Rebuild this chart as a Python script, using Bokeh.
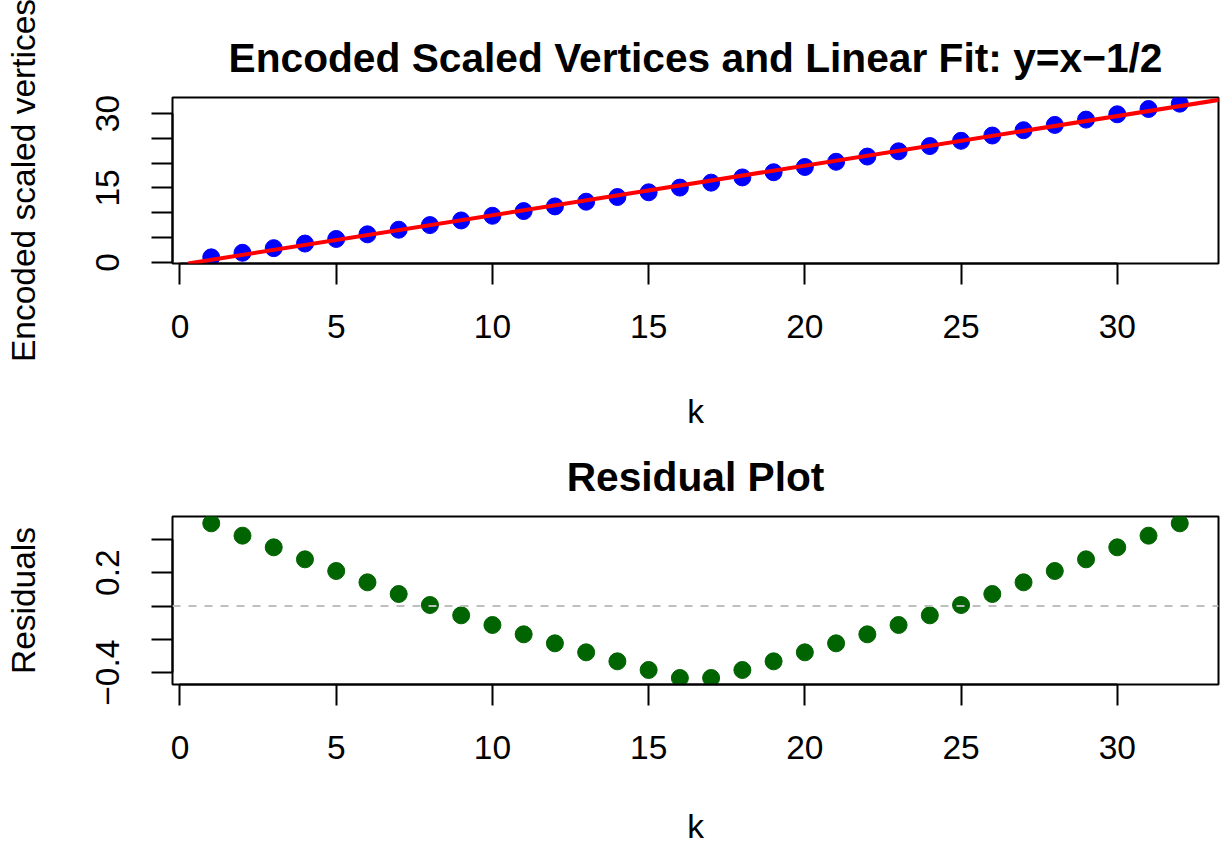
from bokeh.plotting import figure
from bokeh.layouts import column
from bokeh.models import FixedTicker, Span, Slope, Range1d
from bokeh.embed import file_html
from bokeh.resources import INLINE

# ---- data ----
k = [1, 2, 3, 4, 5, 6, 7, 8, 9, 10, 11, 12, 13, 14, 15, 16,
     17, 18, 19, 20, 21, 22, 23, 24, 25, 26, 27, 28, 29, 30, 31, 32]

encoded = [0.996, 1.922, 2.852, 3.780, 4.710, 5.642, 6.572, 7.506,
           8.444, 9.386, 10.330, 11.276, 12.222, 13.168, 14.116, 15.068,
           16.068, 17.116, 18.168, 19.222, 20.276, 21.330, 22.386, 23.444,
           24.506, 25.572, 26.642, 27.710, 28.780, 29.852, 30.922, 31.996]

residuals = [0.496, 0.422, 0.352, 0.280, 0.210, 0.142, 0.072, 0.006,
             -0.056, -0.114, -0.170, -0.224, -0.278, -0.332, -0.384, -0.432,
             -0.432, -0.384, -0.332, -0.278, -0.224, -0.170, -0.114, -0.056,
             0.006, 0.072, 0.142, 0.210, 0.280, 0.352, 0.422, 0.496]

fit_slope = 1.0
fit_intercept = -0.5

x_ticks = [0, 5, 10, 15, 20, 25, 30]
top_y_ticks = [0, 5, 10, 15, 20, 25, 30]
top_y_labels = {0: "0", 5: "", 10: "", 15: "15", 20: "", 25: "", 30: "30"}
res_y_ticks = [-0.4, -0.2, 0, 0.2, 0.4]
res_y_labels = {-0.4: "\u22120.4", -0.2: "", 0: "", 0.2: "0.2", 0.4: ""}

top_title = "Encoded Scaled Vertices and Linear Fit: y=x\u22121/2"
top_ylabel = "Encoded scaled vertices"
res_title = "Residual Plot"
res_ylabel = "Residuals"
xlabel = "k"

# axis limits
x_lo, x_hi = -0.24, 33.24
top_lo, top_hi = -0.24, 33.24
res_lo, res_hi = -0.471, 0.537

FONT = "Liberation Sans"
FS = "33.5px"


def style(p, yticks, ylabels, ybounds, label_standoff_x):
    p.title.text_font = FONT
    p.title.text_font_size = "40.7px"
    p.title.text_font_style = "bold"
    p.title.align = "center"
    p.title.text_color = "black"
    p.title.standoff = 34
    p.outline_line_color = "black"
    p.outline_line_width = 2
    p.outline_line_alpha = 1.0
    p.xgrid.visible = False
    p.ygrid.visible = False
    for ax in (p.xaxis[0], p.yaxis[0]):
        ax.axis_line_color = "black"
        ax.axis_line_width = 2
        ax.major_tick_line_color = "black"
        ax.major_tick_line_width = 2
        ax.major_tick_out = 21
        ax.major_tick_in = 0
        ax.minor_tick_line_color = None
        ax.major_label_text_font = FONT
        ax.major_label_text_font_size = FS
        ax.major_label_text_color = "black"
        ax.axis_label_text_font = FONT
        ax.axis_label_text_font_size = FS
        ax.axis_label_text_font_style = "normal"
        ax.axis_label_text_color = "black"
    p.xaxis[0].ticker = FixedTicker(ticks=x_ticks)
    p.xaxis[0].bounds = (x_ticks[0], x_ticks[-1])
    p.xaxis[0].major_label_standoff = 30
    p.xaxis[0].axis_label_standoff = label_standoff_x
    p.yaxis[0].ticker = FixedTicker(ticks=yticks)
    p.yaxis[0].bounds = ybounds
    p.yaxis[0].major_label_overrides = ylabels
    p.yaxis[0].major_label_orientation = "vertical"
    p.yaxis[0].major_label_standoff = 32
    p.yaxis[0].axis_label_standoff = 52


# ---- top panel ----
p1 = figure(width=1222, height=432, output_backend="svg", toolbar_location=None,
            x_range=Range1d(x_lo, x_hi), y_range=Range1d(top_lo, top_hi),
            min_border_left=172, min_border_right=4, min_border_top=97,
            min_border_bottom=168, title=top_title,
            x_axis_label=xlabel, y_axis_label=top_ylabel)
p1.scatter(k, encoded, size=17, color="#0000FF")
p1.add_layout(Slope(gradient=fit_slope, y_intercept=fit_intercept,
                    line_color="#FF0000", line_width=4))
style(p1, top_y_ticks, top_y_labels, (0, 30), 52)

# ---- residual panel ----
p2 = figure(width=1222, height=416, output_backend="svg", toolbar_location=None,
            x_range=Range1d(x_lo, x_hi), y_range=Range1d(res_lo, res_hi),
            min_border_left=172, min_border_right=4, min_border_top=84,
            min_border_bottom=164, title=res_title,
            x_axis_label=xlabel, y_axis_label=res_ylabel)
p2.add_layout(Span(location=0, dimension="width", line_color="#BEBEBE",
                   line_width=2, line_dash="8 8"))
p2.scatter(k, residuals, size=17, color="#006400")
style(p2, res_y_ticks, res_y_labels, (-0.4, 0.4), 46)

layout = column(p1, p2, spacing=0)
open("out.html", "w").write(file_html(layout, INLINE))
